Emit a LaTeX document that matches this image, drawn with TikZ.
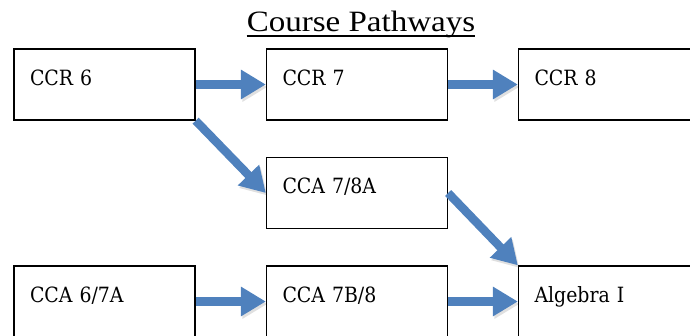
\documentclass[tikz,border=0pt]{standalone}
\usepackage{fontspec}
\setmainfont{Liberation Serif}
\newfontfamily\titlefont[FakeStretch=1.12]{Liberation Serif}
\newfontfamily\boxfont{DejaVu Serif Condensed}
\usetikzlibrary{arrows.meta}

\definecolor{flowblue}{HTML}{4F81BD}

\tikzset{
  course/.style={draw=black,line width=1.3pt,rectangle,inner xsep=16pt,inner ysep=0pt,
    text width=149pt,align=left,text height=36pt,text depth=35pt,
    font=\boxfont\fontsize{21}{25}\selectfont},
  flow/.style={draw=flowblue,line width=8.5pt,
    -{Triangle[length=25pt,width=28pt]},
    preaction={draw=black,opacity=0.12,transform canvas={shift={(1.5pt,-2.5pt)}}}}
}

\begin{document}
\begin{tikzpicture}[x=1pt,y=-1pt]

  \clip (0,0) rectangle (690,335);

  \node (title) at (361,31) [anchor=base,inner sep=0]{\titlefont\fontsize{29.5}{33}\selectfont Course Pathways};
  \draw[line width=1.6pt] ([yshift=-5pt]title.base west) -- ([yshift=-5pt]title.base east);

  \node (ccr6) at (104.5,84.5) [course]{CCR 6};
  \node (ccr7) at (357,84.5) [course]{CCR 7};
  \node (ccr8) at (609,84.5) [course]{CCR 8};

  \node (cca78a) at (357,193) [course]{CCA 7/8A};

  \node (cca67a) at (104.5,301.5) [course]{CCA 6/7A};
  \node (cca7b8) at (357,301.5) [course]{CCA 7B/8};
  \node (alg) at (609,301.5) [course]{Algebra I};

  \draw[flow] (ccr6.east) -- (ccr7.west);
  \draw[flow] (ccr7.east) -- (ccr8.west);
  \draw[flow] (ccr6.south east) -- (cca78a.west);
  \draw[flow] (cca78a.east) -- (alg.north west);
  \draw[flow] (cca67a.east) -- (cca7b8.west);
  \draw[flow] (cca7b8.east) -- (alg.west);

\end{tikzpicture}
\end{document}
